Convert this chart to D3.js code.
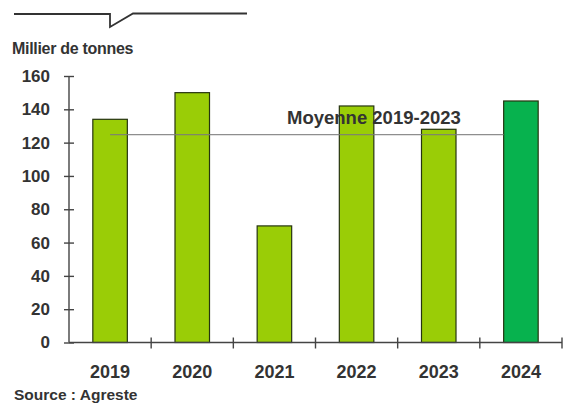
<!DOCTYPE html>
<html lang="fr">
<head>
<meta charset="utf-8">
<script src="https://cdn.jsdelivr.net/npm/d3@7"></script>
<style>
  html, body { margin: 0; padding: 0; background: #fff; }
  svg { display: block; font-family: "Liberation Sans", Arial, sans-serif; }
  .lbl { fill: #333; font-weight: bold; }
</style>
</head>
<body>
<svg id="chart" width="563" height="403"></svg>
<script>
// Production annuelle (milliers de tonnes)
const years = ["2019", "2020", "2021", "2022", "2023", "2024"];
const tonnes = [134, 150, 70, 142, 128, 145];
const yTicks = [0, 20, 40, 60, 80, 100, 120, 140, 160];
const averageYears = ["2019", "2020", "2021", "2022", "2023"];
const averageLabel = "Moyenne 2019-2023";
const unitLabel = "Millier de tonnes";
const sourceLabel = "Source : Agreste";
const currentYear = "2024";

const svg = d3.select("#chart");

const x = d3.scaleBand()
  .domain(years)
  .range([69, 562])
  .paddingInner(0.58)
  .paddingOuter(0.29);

const y = d3.scaleLinear()
  .domain([0, 160])
  .range([342.5, 76]);

// Decorative header rule with a small notch
svg.append("path")
  .attr("d", "M14,14 H110 V27 L133,13.5 H247")
  .attr("fill", "none")
  .attr("stroke", "#333")
  .attr("stroke-width", 1.8);

// Unit title
svg.append("text")
  .attr("class", "lbl")
  .attr("x", 12)
  .attr("y", 54)
  .attr("font-size", 16)
  .attr("letter-spacing", -0.3)
  .text(unitLabel);

// Bars
const byYear = years.map((yr, i) => ({ year: yr, value: tonnes[i] }));
svg.append("g")
  .selectAll("rect")
  .data(byYear)
  .join("rect")
  .attr("x", d => x(d.year))
  .attr("y", d => y(d.value))
  .attr("width", x.bandwidth())
  .attr("height", d => y(0) - y(d.value))
  .attr("fill", d => d.year === currentYear ? "#07b24e" : "#9acd06")
  .attr("stroke", "#263410")
  .attr("stroke-width", 1.2);

// Y axis with ticks crossing the line
const yAxis = svg.append("g")
  .attr("transform", `translate(${x.range()[0]},0)`)
  .call(d3.axisLeft(y).tickValues(yTicks).tickSize(5).tickPadding(14));
yAxis.select(".domain")
  .attr("d", `M0,${y(0)}V${y(160)}`)
  .attr("stroke", "#444")
  .attr("stroke-width", 1.4);
yAxis.selectAll(".tick line")
  .attr("x1", -5).attr("x2", 5)
  .attr("stroke", "#444")
  .attr("stroke-width", 1.4);
yAxis.selectAll(".tick text")
  .attr("class", "lbl")
  .attr("font-size", 17)
  .attr("font-family", "Liberation Sans, Arial, sans-serif");

// X axis: labels centred under each bar, ticks on category boundaries
const xAxis = svg.append("g")
  .attr("transform", `translate(0,${y(0)})`)
  .call(d3.axisBottom(x).tickSize(0).tickPadding(23));
xAxis.select(".domain")
  .attr("d", `M${x.range()[0]},0H${x.range()[1]}`)
  .attr("stroke", "#444")
  .attr("stroke-width", 1.4);
xAxis.selectAll(".tick text")
  .attr("class", "lbl")
  .attr("font-size", 18)
  .attr("font-family", "Liberation Sans, Arial, sans-serif");

const step = x.step();
const boundaries = years.map(yr => x(yr) - x.paddingOuter() * step + step);
xAxis.selectAll("line.boundary")
  .data(boundaries)
  .join("line")
  .attr("class", "boundary")
  .attr("x1", d => d).attr("x2", d => d)
  .attr("y1", -5).attr("y2", 6)
  .attr("stroke", "#444")
  .attr("stroke-width", 1.4);

// Average line over 2019-2023
const avg = d3.mean(averageYears.map(yr => tonnes[years.indexOf(yr)]));
svg.append("line")
  .attr("x1", x(averageYears[0]) + x.bandwidth() / 2)
  .attr("x2", x(currentYear))
  .attr("y1", y(avg))
  .attr("y2", y(avg))
  .attr("stroke", "#7a7a7a")
  .attr("stroke-opacity", 0.85)
  .attr("stroke-width", 1.3);

svg.append("text")
  .attr("class", "lbl")
  .attr("x", 287)
  .attr("y", y(avg) - 11)
  .attr("font-size", 18.5)
  .text(averageLabel);

// Source note
svg.append("text")
  .attr("class", "lbl")
  .attr("x", 14)
  .attr("y", 400)
  .attr("font-size", 15.5)
  .text(sourceLabel);
</script>
</body>
</html>
